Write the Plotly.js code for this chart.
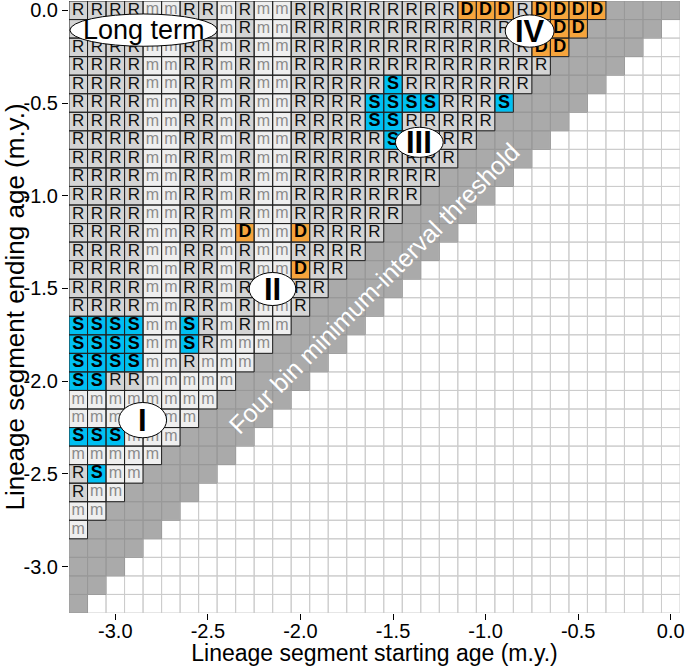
<!DOCTYPE html>
<html><head><meta charset="utf-8">
<script src="https://cdn.plot.ly/plotly-3.0.1.min.js"></script>
<style>html,body{margin:0;padding:0;background:#fff;}</style>
</head><body><div id="chart" style="width:685px;height:666px;"></div>
<script>
// Bin centres (m.y.)
const startAges = [-3.2,-3.1,-3.0,-2.9,-2.8,-2.7,-2.6,-2.5,-2.4,-2.3,-2.2,-2.1,-2.0,-1.9,-1.8,-1.7,-1.6,-1.5,-1.4,-1.3,-1.2,-1.1,-1.0,-0.9,-0.8,-0.7,-0.6,-0.5,-0.4,-0.3,-0.2,-0.1,0.0];
const endAges = [0.0,-0.1,-0.2,-0.3,-0.4,-0.5,-0.6,-0.7,-0.8,-0.9,-1.0,-1.1,-1.2,-1.3,-1.4,-1.5,-1.6,-1.7,-1.8,-1.9,-2.0,-2.1,-2.2,-2.3,-2.4,-2.5,-2.6,-2.7,-2.8,-2.9,-3.0,-3.1,-3.2];
// Result codes per ending-age row (top = 0.0), from the oldest starting age
const cellCodes = [
 "RRRRmmRRmRmmRRRRRRRRRDDDRDDDD",
 "RRRRmmRRmRmmRRRRRRRRRRRRRRDD",
 "RRRRmmRRmRmmRRRRRRRRRRRRRDD",
 "RRRRmmRRmRmmRRRRRRRRRRRRRR",
 "RRRRmmRRmRmmRRRRRSRRRRRRR",
 "RRRRmmRRmRmmRRRRSSSSRRRS",
 "RRRRmmRRmRmmRRRRSSRRRRR",
 "RRRRmmRRmRmmRRRRRSRRRR",
 "RRRRmmRRmRmmRRRRRRRRR",
 "RRRRmmRRmRmmRRRRRRRR",
 "RRRRmmRRmRmmRRRRRRR",
 "RRRRmmRRmRmmRRRRRR",
 "RRRRmmRRmDmmDRRRR",
 "RRRRmmRRmRmmRRRR",
 "RRRRmmRRmRmmDRR",
 "RRRRmmRRmRmmRR",
 "RRRRmmRRmRmmR",
 "SSSSmmSRmRmm",
 "SSSSmmSRmmm",
 "SSSSmmRmmm",
 "SSRRmmmmm",
 "mmmmmmmm",
 "mmmmmmm",
 "SSSmmm",
 "mmmmm",
 "RSmm",
 "Rmm",
 "mm",
 "m"
];
const minIntervalBins = 4;
const xTickVals = [-3.0,-2.5,-2.0,-1.5,-1.0,-0.5,0.0];
const xTickText = ["-3.0","-2.5","-2.0","-1.5","-1.0","-0.5","0.0"];
const yTickVals = [0.0,-0.5,-1.0,-1.5,-2.0,-2.5,-3.0];
const yTickText = ["0.0","-0.5","-1.0","-1.5","-2.0","-2.5","-3.0"];
const regionLabels = ["Long term","I","II","III","IV"];
const thresholdLabel = "Four bin minimum-interval threshold";

const FONT = "Liberation Sans, Arial, Helvetica, sans-serif";
const catIndex = {white:0, grey:1, m:2, R:3, S:4, D:5};
const catColors = ["#ffffff","#aaaaaa","#efefef","#d4d4d4","#00c0f2","#f6a43c"];
const step = 0.1, h = step/2;

// Region label bubbles (x centre, y centre, half-width, half-height, font size, bold)
const bubbles = [
  {cx:-2.847, cy:-0.107, rx:0.398, ry:0.087, size:27, bold:false},
  {cx:-2.852, cy:-2.210, rx:0.129, ry:0.095, size:31, bold:true},
  {cx:-2.151, cy:-1.503, rx:0.126, ry:0.089, size:31, bold:true},
  {cx:-1.358, cy:-0.712, rx:0.129, ry:0.081, size:31, bold:true},
  {cx:-0.762, cy:-0.112, rx:0.132, ry:0.087, size:31, bold:true}
];
function hiddenByBubble(x, y){
  return bubbles.some(b => Math.pow((x-b.cx)/b.rx,2) + Math.pow((y-b.cy)/b.ry,2) < 1);
}

const z = [];
const borders = {white:{x:[],y:[]}, grey:{x:[],y:[]}, letter:{x:[],y:[]}};
const txt = {R:{x:[],y:[],t:[]}, m:{x:[],y:[],t:[]}, S:{x:[],y:[],t:[]}, D:{x:[],y:[],t:[]}};
function addRect(b, x, y){
  b.x.push(x-h,x+h,x+h,x-h,x-h,null);
  b.y.push(y-h,y-h,y+h,y+h,y-h,null);
}
endAges.forEach((ye, j) => {
  const row = [];
  startAges.forEach((xs, i) => {
    const bins = Math.round((ye - xs)/step);
    let cat;
    if (bins < 0) { cat = 'white'; addRect(borders.white, xs, ye); }
    else if (bins < minIntervalBins) { cat = 'grey'; addRect(borders.grey, xs, ye); }
    else {
      cat = (cellCodes[j] || '')[i] || 'm';
      addRect(borders.letter, xs, ye);
      if (!hiddenByBubble(xs, ye)) { txt[cat].x.push(xs); txt[cat].y.push(ye); txt[cat].t.push(cat); }
    }
    row.push(catIndex[cat]);
  });
  z.push(row);
});
const n = catColors.length;
const colorscale = [];
catColors.forEach((c, k) => { colorscale.push([k/n, c]); colorscale.push([(k+1)/n, c]); });

const traces = [
  {type:'heatmap', x:startAges, y:endAges, z:z, zmin:-0.5, zmax:n-0.5, colorscale:colorscale, showscale:false, hoverinfo:'skip'},
  {type:'scatter', mode:'lines', x:borders.white.x, y:borders.white.y, line:{color:'#cccccc', width:1}, hoverinfo:'skip', showlegend:false},
  {type:'scatter', mode:'lines', x:borders.grey.x, y:borders.grey.y, line:{color:'#999999', width:1}, hoverinfo:'skip', showlegend:false},
  {type:'scatter', mode:'lines', x:borders.letter.x, y:borders.letter.y, line:{color:'#222222', width:1}, hoverinfo:'skip', showlegend:false},
  {type:'scatter', mode:'text', x:txt.R.x, y:txt.R.y, text:txt.R.t, textposition:'middle center', textfont:{family:FONT, size:17, color:'#111'}, hoverinfo:'skip', showlegend:false},
  {type:'scatter', mode:'text', x:txt.m.x, y:txt.m.y, text:txt.m.t, textposition:'middle center', textfont:{family:FONT, size:16, color:'#8a8a8a'}, hoverinfo:'skip', showlegend:false},
  {type:'scatter', mode:'text', x:txt.S.x, y:txt.S.y, text:txt.S.t, textposition:'middle center', textfont:{family:FONT, size:18, color:'#000', weight:'bold'}, hoverinfo:'skip', showlegend:false},
  {type:'scatter', mode:'text', x:txt.D.x, y:txt.D.y, text:txt.D.t, textposition:'middle center', textfont:{family:FONT, size:18, color:'#000', weight:'bold'}, hoverinfo:'skip', showlegend:false}
];

const shapes = bubbles.map(b => ({type:'circle', xref:'x', yref:'y', x0:b.cx-b.rx, x1:b.cx+b.rx, y0:b.cy-b.ry, y1:b.cy+b.ry, fillcolor:'#ffffff', line:{color:'#000', width:1}, layer:'above'}));
const annotations = bubbles.map((b, k) => ({xref:'x', yref:'y', x:b.cx, y:b.cy, text:regionLabels[k], showarrow:false, font:{family:FONT, size:b.size, color:'#000', weight:b.bold?'bold':'normal'}, xanchor:'center', yanchor:'middle'}));
annotations.push({xref:'x', yref:'y', x:-1.6, y:-1.5, text:thresholdLabel, showarrow:false, textangle:-45, font:{family:FONT, size:25, color:'#ffffff'}, xanchor:'center', yanchor:'middle'});

const layout = {
  width:685, height:666,
  margin:{l:69, r:5, t:1, b:53},
  paper_bgcolor:'#fff', plot_bgcolor:'#fff',
  font:{family:FONT, color:'#000'},
  showlegend:false,
  xaxis:{range:[-3.25,0.05], tickvals:xTickVals, ticktext:xTickText, ticks:'outside', ticklen:6, tickcolor:'#000', tickwidth:1,
         showgrid:false, zeroline:false, showline:false, tickfont:{size:20, family:FONT}, ticklabeloverflow:'allow', ticklabelstandoff:-6,
         title:{text:'Lineage segment starting age (m.y.)', font:{size:23, family:FONT}, standoff:0}, automargin:false},
  yaxis:{range:[-3.25,0.05], tickvals:yTickVals, ticktext:yTickText, ticks:'outside', ticklen:6, tickcolor:'#000', tickwidth:1,
         showgrid:false, zeroline:false, showline:false, tickfont:{size:20, family:FONT}, ticklabeloverflow:'allow',
         title:{text:'Lineage segment ending age (m.y.)', font:{size:26, family:FONT}, standoff:2}, automargin:false},
  shapes:shapes, annotations:annotations
};
Plotly.newPlot('chart', traces, layout, {displayModeBar:false, staticPlot:true});
</script></body></html>
